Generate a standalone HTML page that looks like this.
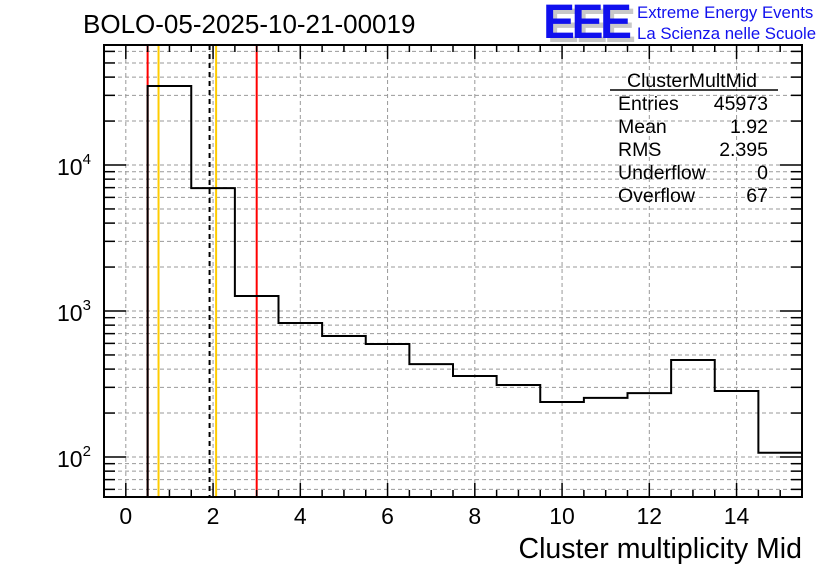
<!DOCTYPE html>
<html><head><meta charset="utf-8"><style>
body{margin:0;background:#fff;}
svg{display:block;font-family:"Liberation Sans",sans-serif;}
</style></head><body>
<svg id="c" width="836" height="572">
<g id="grid"></g>
<g id="lines"></g>
<path id="hist" fill="none" stroke="#000" stroke-width="2"></path>
<g id="axes"></g>
<text x="83" y="33" font-size="26">BOLO-05-2025-10-21-00019</text>
<g>
<text x="547" y="42" font-size="48" font-weight="bold" fill="#c8c8c8" letter-spacing="-3" textLength="86">EEE</text>
<text x="543" y="38" font-size="48" font-weight="bold" fill="#1010ee" letter-spacing="-3" textLength="86">EEE</text>
<text x="637" y="18" font-size="16.8" fill="#1010ee">Extreme Energy Events</text>
<text x="637" y="39" font-size="16.8" fill="#1010ee">La Scienza nelle Scuole</text>
</g>
<g font-size="19.5">
<text x="692" y="87" text-anchor="middle">ClusterMultMid</text>
<line x1="610" y1="90" x2="778" y2="90" stroke="#000" stroke-width="1.5"/>
<text x="618" y="110">Entries</text><text x="768" y="110" text-anchor="end">45973</text>
<text x="618" y="133">Mean</text><text x="768" y="133" text-anchor="end">1.92</text>
<text x="618" y="156">RMS</text><text x="768" y="156" text-anchor="end">2.395</text>
<text x="618" y="179">Underflow</text><text x="768" y="179" text-anchor="end">0</text>
<text x="618" y="202">Overflow</text><text x="768" y="202" text-anchor="end">67</text>
</g>
<text x="802" y="558" font-size="28.5" text-anchor="end">Cluster multiplicity Mid</text>
</svg>
<script>
const binEdges=[0.5,1.5,2.5,3.5,4.5,5.5,6.5,7.5,8.5,9.5,10.5,11.5,12.5,13.5,14.5,15.5];
const counts=[34800,6950,1267,828,674,594,433,359,311,238,254,274,462,283,107];
const xTicks=[0,2,4,6,8,10,12,14];
const yDecades=[2,3,4];
const markerValues=[0.5,0.75,1.92,2.07,3.0];
const markerColors=["#f00","#fc0","#000","#fc0","#f00"];
const L=104,R=802,T=45,B=497,xmin=-0.5,xmax=15.5,lmin=1.726,lmax=4.822;
const X=v=>L+(v-xmin)/(xmax-xmin)*(R-L);
const Y=v=>B-(Math.log10(v)-lmin)/(lmax-lmin)*(B-T);
const NS="http://www.w3.org/2000/svg";
function mk(p,t,a){const e=document.createElementNS(NS,t);for(const k in a)e.setAttribute(k,a[k]);document.getElementById(p).appendChild(e);return e;}
for(let v=0;v<=15;v+=1){if(v%2)continue;const g=mk('grid','line',{x1:X(v),x2:X(v),y1:T,y2:B,stroke:'#999','stroke-dasharray':'4,3'});

}
for(let d=1;d<=4;d++)for(let m=1;m<=9;m++){const v=m*Math.pow(10,d);const y=Y(v);if(y<T||y>B)continue;
const g=mk('grid','line',{x1:L,x2:R,y1:y,y2:y,stroke:'#999','stroke-dasharray':'4,3'});


const t1=mk('axes','line',{x1:L,x2:L+(m==1?22:11),y1:y,y2:y,stroke:'#000','stroke-width':1.5});


const t2=mk('axes','line',{x1:R,x2:R-(m==1?22:11),y1:y,y2:y,stroke:'#000','stroke-width':1.5});

}
markerValues.forEach((v,i)=>{const l=mk('lines','line',{x1:X(v),x2:X(v),y1:T,y2:B,stroke:markerColors[i],'stroke-width':2});
if(i==2)l.setAttribute('stroke-dasharray','5,4');

});
let d='M'+X(binEdges[0])+','+B;
counts.forEach((c,i)=>{d+=' L'+X(binEdges[i])+','+Y(c)+' L'+X(binEdges[i+1])+','+Y(c);});
d+=' L'+X(binEdges[binEdges.length-1])+','+Y(counts[counts.length-1]);
document.getElementById('hist').setAttribute('d',d);
const fr=mk('axes','rect',{x:L,y:T,width:R-L,height:B-T,fill:'none',stroke:'#000','stroke-width':2});


for(let v=0;v<=15.5;v+=0.5){const maj=v%2==0;
const t=mk('axes','line',{x1:X(v),x2:X(v),y1:B,y2:B-(maj?14:7),stroke:'#000','stroke-width':1.5});


const t2=mk('axes','line',{x1:X(v),x2:X(v),y1:T,y2:T+(maj?14:7),stroke:'#000','stroke-width':1.5});

}
xTicks.forEach(v=>{const t=mk('axes','text',{x:X(v),y:B+27,'font-size':23,'text-anchor':'middle'});t.textContent=v;

});
yDecades.forEach(p=>{const y=Y(Math.pow(10,p));const t=mk('axes','text',{x:57,y:y+10,'font-size':23});
t.innerHTML='10<tspan dy="-11" font-size="15">'+p+'</tspan>';

});
</script>
</body></html>
